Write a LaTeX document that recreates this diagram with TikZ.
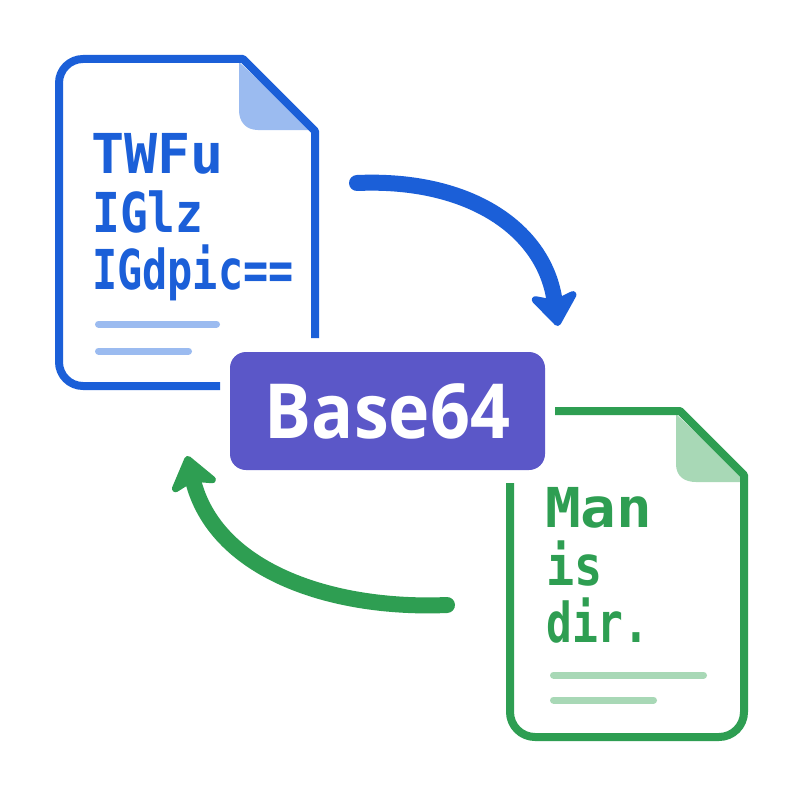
\documentclass[tikz,border=0pt]{standalone}
\usepackage{fontspec}
\usetikzlibrary{arrows.meta}
\newfontfamily\codefont{DejaVu Sans Mono}
\newfontfamily\badgefont{Open Sans}
\definecolor{docblue}{HTML}{1B5FD8}
\definecolor{foldblue}{HTML}{9BBBF0}
\definecolor{docgreen}{HTML}{2E9E52}
\definecolor{foldgreen}{HTML}{A8D8B6}
\definecolor{badgeviolet}{HTML}{5B57C8}
\tikzset{
  docstroke/.style={line width=8pt, line join=round, line cap=butt},
  textline/.style={line width=7pt, line cap=round},
  flowarrow/.style={line width=16pt, line cap=round,
    -{Stealth[length=38pt,width=56pt,inset=9pt,round]}},
  codetext/.style={inner sep=0pt, anchor=base west,
    font=\codefont\bfseries\fontsize{55}{60}\selectfont},
  badgebox/.style={fill=badgeviolet, rounded corners=16pt, inner sep=0pt,
    minimum width=315pt, minimum height=118pt, text=white,
    font=\badgefont\bfseries\fontsize{76}{80}\selectfont},
}
\begin{document}
\begin{tikzpicture}[x=1pt,y=-1pt]
\useasboundingbox[fill=white] (0,0) rectangle (800,800);

% blue document
\fill[foldblue] (239,62) -- (239,110) .. controls (239,122) and (246,130) .. (258,130) -- (312,130) -- cycle;
\draw[docstroke, draw=docblue] (220,386) -- (83,386) .. controls (69.75,386) and (59,375.25) .. (59,362)
  -- (59,83) .. controls (59,69.75) and (69.75,59) .. (83,59) -- (243,59) -- (315,131) -- (315,338);
\node[codetext, text=docblue] (b1) at (91,173) {\scalebox{1.0}[1]{TWFu}};
\node[codetext, text=docblue] (b2) at (92,232) {\scalebox{0.84}[1]{IGlz}};
\node[codetext, text=docblue] (b3) at (92,289) {\scalebox{0.76}[1]{IGdpic==}};
\draw[textline, foldblue] (98.5,324) -- (216.5,324);
\draw[textline, foldblue] (98.5,351) -- (188.5,351);

% green document
\fill[foldgreen] (676,414) -- (676,464) .. controls (676,476) and (684,482) .. (696,482) -- (742,482) -- (742,476) -- cycle;
\draw[docstroke, draw=docgreen] (555,411) -- (680,411) -- (744,475) -- (744,712)
  .. controls (744,725.8) and (732.8,737) .. (719,737) -- (535,737)
  .. controls (521.2,737) and (510,725.8) .. (510,712) -- (510,483);
\node[codetext, text=docgreen] (g1) at (545,527) {\scalebox{1.08}[1]{Man}};
\node[codetext, text=docgreen] (g2) at (546,585) {\scalebox{0.85}[1]{is}};
\node[codetext, text=docgreen] (g3) at (546,642) {\scalebox{0.78}[1]{dir.}};
\draw[textline, foldgreen] (553.5,675) -- (703.5,675);
\draw[textline, foldgreen] (553.5,700) -- (653.5,700);

% badge
\node[badgebox] (b64) at (387.5,411) {\scalebox{0.92}[1]{Base64}};

% arrows
\coordinate (bs) at (357,183);
\coordinate (be) at (558,326);
\draw[flowarrow, docblue] (bs) .. controls (470,178) and (545,230) .. (be);
\coordinate (gs) at (447,605);
\coordinate (ge) at (187,456);
\draw[flowarrow, docgreen] (gs) .. controls (330,610) and (215,570) .. (ge);
\end{tikzpicture}
\end{document}
